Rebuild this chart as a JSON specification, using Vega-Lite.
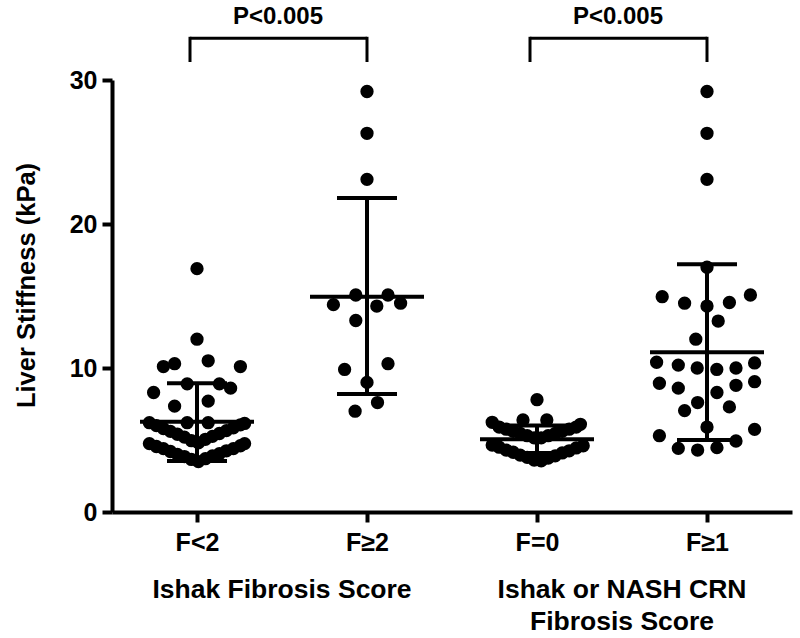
{
  "$schema": "https://vega.github.io/schema/vega-lite/v6.json",
  "width": 680,
  "height": 432,
  "autosize": {"type": "none"},
  "padding": {"left": 112, "top": 80, "right": 8, "bottom": 126},
  "background": "white",
  "config": {
    "view": {"stroke": null},
    "font": "Liberation Sans",
    "axis": {"domainColor": "black", "tickColor": "black", "labelColor": "black", "titleColor": "black", "grid": false, "labelFont": "Liberation Sans", "titleFont": "Liberation Sans", "labelFontWeight": "bold", "titleFontWeight": "bold", "labelFontSize": 25, "titleFontSize": 25, "domainWidth": 4, "tickWidth": 4, "tickSize": 10}
  },
  "datasets": {
    "pts": [
      {"group": "F<2", "kpa": 16.9, "lane": 0},
      {"group": "F<2", "kpa": 12.0, "lane": 0},
      {"group": "F<2", "kpa": 10.1, "lane": -2.4},
      {"group": "F<2", "kpa": 10.3, "lane": -1.6},
      {"group": "F<2", "kpa": 10.5, "lane": 0.8},
      {"group": "F<2", "kpa": 10.1, "lane": 3.1},
      {"group": "F<2", "kpa": 8.9, "lane": -0.7},
      {"group": "F<2", "kpa": 8.9, "lane": 1.6},
      {"group": "F<2", "kpa": 8.6, "lane": 2.4},
      {"group": "F<2", "kpa": 8.3, "lane": -3.1},
      {"group": "F<2", "kpa": 7.7, "lane": 0.8},
      {"group": "F<2", "kpa": 7.35, "lane": -1.6},
      {"group": "F<2", "kpa": 6.2, "lane": -0.7},
      {"group": "F<2", "kpa": 6.2, "lane": 0.8},
      {"group": "F<2", "kpa": 6.2, "lane": -3.4},
      {"group": "F<2", "kpa": 6.0, "lane": -2.9},
      {"group": "F<2", "kpa": 5.8, "lane": -2.4},
      {"group": "F<2", "kpa": 5.6, "lane": -1.9},
      {"group": "F<2", "kpa": 5.4, "lane": -1.4},
      {"group": "F<2", "kpa": 5.2, "lane": -0.9},
      {"group": "F<2", "kpa": 4.95, "lane": -0.4},
      {"group": "F<2", "kpa": 4.8, "lane": 0.1},
      {"group": "F<2", "kpa": 5.05, "lane": 0.6},
      {"group": "F<2", "kpa": 5.25, "lane": 1.1},
      {"group": "F<2", "kpa": 5.45, "lane": 1.6},
      {"group": "F<2", "kpa": 5.65, "lane": 2.1},
      {"group": "F<2", "kpa": 5.85, "lane": 2.6},
      {"group": "F<2", "kpa": 6.05, "lane": 3.1},
      {"group": "F<2", "kpa": 6.15, "lane": 3.4},
      {"group": "F<2", "kpa": 4.75, "lane": -3.4},
      {"group": "F<2", "kpa": 4.55, "lane": -2.9},
      {"group": "F<2", "kpa": 4.4, "lane": -2.4},
      {"group": "F<2", "kpa": 4.2, "lane": -1.9},
      {"group": "F<2", "kpa": 4.0, "lane": -1.4},
      {"group": "F<2", "kpa": 3.85, "lane": -0.9},
      {"group": "F<2", "kpa": 3.65, "lane": -0.4},
      {"group": "F<2", "kpa": 3.5, "lane": 0.1},
      {"group": "F<2", "kpa": 3.7, "lane": 0.6},
      {"group": "F<2", "kpa": 3.9, "lane": 1.1},
      {"group": "F<2", "kpa": 4.05, "lane": 1.6},
      {"group": "F<2", "kpa": 4.25, "lane": 2.1},
      {"group": "F<2", "kpa": 4.4, "lane": 2.6},
      {"group": "F<2", "kpa": 4.6, "lane": 3.1},
      {"group": "F<2", "kpa": 4.75, "lane": 3.4},
      {"group": "F≥2", "kpa": 29.2, "lane": 0},
      {"group": "F≥2", "kpa": 26.3, "lane": 0},
      {"group": "F≥2", "kpa": 23.1, "lane": 0},
      {"group": "F≥2", "kpa": 15.07, "lane": -0.8},
      {"group": "F≥2", "kpa": 14.4, "lane": -2.4},
      {"group": "F≥2", "kpa": 15.07, "lane": 1.5},
      {"group": "F≥2", "kpa": 14.3, "lane": 0.7},
      {"group": "F≥2", "kpa": 14.5, "lane": 2.4},
      {"group": "F≥2", "kpa": 13.3, "lane": -0.8},
      {"group": "F≥2", "kpa": 9.9, "lane": -1.6},
      {"group": "F≥2", "kpa": 10.3, "lane": 1.5},
      {"group": "F≥2", "kpa": 9.0, "lane": 0},
      {"group": "F≥2", "kpa": 7.0, "lane": -0.85},
      {"group": "F≥2", "kpa": 7.6, "lane": 0.75},
      {"group": "F=0", "kpa": 7.8, "lane": 0},
      {"group": "F=0", "kpa": 6.23, "lane": -3.2},
      {"group": "F=0", "kpa": 6.39, "lane": -1.0},
      {"group": "F=0", "kpa": 6.39, "lane": 0.7},
      {"group": "F=0", "kpa": 6.09, "lane": 3.1},
      {"group": "F=0", "kpa": 5.9, "lane": -2.7},
      {"group": "F=0", "kpa": 5.75, "lane": -2.2},
      {"group": "F=0", "kpa": 5.6, "lane": -1.7},
      {"group": "F=0", "kpa": 5.45, "lane": -1.2},
      {"group": "F=0", "kpa": 5.3, "lane": -0.7},
      {"group": "F=0", "kpa": 5.15, "lane": -0.2},
      {"group": "F=0", "kpa": 5.15, "lane": 0.3},
      {"group": "F=0", "kpa": 5.3, "lane": 0.8},
      {"group": "F=0", "kpa": 5.45, "lane": 1.3},
      {"group": "F=0", "kpa": 5.6, "lane": 1.8},
      {"group": "F=0", "kpa": 5.75, "lane": 2.3},
      {"group": "F=0", "kpa": 5.9, "lane": 2.8},
      {"group": "F=0", "kpa": 4.65, "lane": -3.2},
      {"group": "F=0", "kpa": 4.5, "lane": -2.7},
      {"group": "F=0", "kpa": 4.3, "lane": -2.2},
      {"group": "F=0", "kpa": 4.15, "lane": -1.7},
      {"group": "F=0", "kpa": 3.95, "lane": -1.2},
      {"group": "F=0", "kpa": 3.8, "lane": -0.7},
      {"group": "F=0", "kpa": 3.6, "lane": -0.2},
      {"group": "F=0", "kpa": 3.55, "lane": 0.3},
      {"group": "F=0", "kpa": 3.75, "lane": 0.8},
      {"group": "F=0", "kpa": 3.9, "lane": 1.3},
      {"group": "F=0", "kpa": 4.1, "lane": 1.8},
      {"group": "F=0", "kpa": 4.25, "lane": 2.3},
      {"group": "F=0", "kpa": 4.45, "lane": 2.8},
      {"group": "F=0", "kpa": 4.6, "lane": 3.3},
      {"group": "F≥1", "kpa": 29.2, "lane": 0},
      {"group": "F≥1", "kpa": 26.3, "lane": 0},
      {"group": "F≥1", "kpa": 23.1, "lane": 0},
      {"group": "F≥1", "kpa": 17.0, "lane": 0},
      {"group": "F≥1", "kpa": 14.95, "lane": -3.2},
      {"group": "F≥1", "kpa": 14.5, "lane": -1.6},
      {"group": "F≥1", "kpa": 14.3, "lane": 0},
      {"group": "F≥1", "kpa": 14.55, "lane": 1.6},
      {"group": "F≥1", "kpa": 15.07, "lane": 3.1},
      {"group": "F≥1", "kpa": 13.26, "lane": 0.8},
      {"group": "F≥1", "kpa": 12.0, "lane": -0.8},
      {"group": "F≥1", "kpa": 10.4, "lane": -3.6},
      {"group": "F≥1", "kpa": 10.2, "lane": -2.05},
      {"group": "F≥1", "kpa": 10.0, "lane": -0.7},
      {"group": "F≥1", "kpa": 9.9, "lane": 0.7},
      {"group": "F≥1", "kpa": 10.0, "lane": 2.07},
      {"group": "F≥1", "kpa": 10.35, "lane": 3.4},
      {"group": "F≥1", "kpa": 8.94, "lane": -3.4},
      {"group": "F≥1", "kpa": 8.6, "lane": -2.05},
      {"group": "F≥1", "kpa": 7.6, "lane": -0.67},
      {"group": "F≥1", "kpa": 8.3, "lane": 0.71},
      {"group": "F≥1", "kpa": 8.8, "lane": 2.07},
      {"group": "F≥1", "kpa": 9.05, "lane": 3.4},
      {"group": "F≥1", "kpa": 7.04, "lane": -1.6},
      {"group": "F≥1", "kpa": 7.3, "lane": 1.6},
      {"group": "F≥1", "kpa": 5.9, "lane": 0},
      {"group": "F≥1", "kpa": 5.3, "lane": -3.4},
      {"group": "F≥1", "kpa": 5.74, "lane": 3.4},
      {"group": "F≥1", "kpa": 4.93, "lane": 2.07},
      {"group": "F≥1", "kpa": 4.42, "lane": -2.05},
      {"group": "F≥1", "kpa": 4.3, "lane": -0.67},
      {"group": "F≥1", "kpa": 4.47, "lane": 0.71}
    ],
    "summ": [
      {"group": "F<2", "mean": 6.27, "lo": 3.54, "hi": 8.94},
      {"group": "F≥2", "mean": 14.95, "lo": 8.2, "hi": 21.8},
      {"group": "F=0", "mean": 5.05, "lo": 4.1, "hi": 6.0},
      {"group": "F≥1", "mean": 11.1, "lo": 5.0, "hi": 17.2}
    ],
    "brackets": [
      {"from": "F<2", "to": "F≥2", "label": "P<0.005"},
      {"from": "F=0", "to": "F≥1", "label": "P<0.005"}
    ],
    "titles": [
      {"group": "F<2", "title": "Ishak Fibrosis Score"},
      {"group": "F=0", "title": "Ishak or NASH CRN\nFibrosis Score"}
    ]
  },
  "encoding": {
    "x": {"field": "group", "type": "nominal", "sort": ["F<2", "F≥2", "F=0", "F≥1"],
      "scale": {"type": "point", "padding": 0.5, "domain": ["F<2", "F≥2", "F=0", "F≥1"]},
      "axis": {"title": null, "labelAngle": 0, "labelPadding": 8, "labelBaseline": "top"}}
  },
  "layer": [
    {
      "data": {"name": "pts"},
      "mark": {"type": "circle", "size": 177, "color": "black", "opacity": 1},
      "encoding": {
        "xOffset": {"field": "lane", "type": "quantitative", "scale": {"domain": [-1, 1], "range": [-14, 14]}},
        "y": {"field": "kpa", "type": "quantitative", "scale": {"domain": [0, 30], "nice": false},
          "axis": {"values": [0, 10, 20, 30], "title": "Liver Stiffness (kPa)", "labelPadding": 5, "titlePadding": 30, "titleFontSize": 25.5, "titleY": 205}}
      }
    },
    {
      "data": {"name": "summ"},
      "mark": {"type": "rule", "color": "black", "strokeWidth": 4},
      "encoding": {"y": {"field": "lo", "type": "quantitative"}, "y2": {"field": "hi"}}
    },
    {
      "data": {"name": "summ"},
      "mark": {"type": "tick", "color": "black", "size": 114, "thickness": 4, "opacity": 1},
      "encoding": {"y": {"field": "mean", "type": "quantitative"}}
    },
    {
      "data": {"name": "summ"},
      "mark": {"type": "tick", "color": "black", "size": 60, "thickness": 4, "opacity": 1},
      "encoding": {"y": {"field": "lo", "type": "quantitative"}}
    },
    {
      "data": {"name": "summ"},
      "mark": {"type": "tick", "color": "black", "size": 60, "thickness": 4, "opacity": 1},
      "encoding": {"y": {"field": "hi", "type": "quantitative"}}
    },
    {
      "data": {"name": "brackets"},
      "mark": {"type": "rule", "color": "black", "strokeWidth": 3, "xOffset": -7},
      "encoding": {"x": {"field": "from", "type": "nominal"}, "x2": {"field": "to"}, "y": {"datum": 32.9}}
    },
    {
      "data": {"name": "brackets"},
      "mark": {"type": "rule", "color": "black", "strokeWidth": 3, "xOffset": -7},
      "encoding": {"x": {"field": "from", "type": "nominal"}, "y": {"datum": 31.25}, "y2": {"datum": 33.0}}
    },
    {
      "data": {"name": "brackets"},
      "mark": {"type": "rule", "color": "black", "strokeWidth": 3},
      "encoding": {"x": {"field": "to", "type": "nominal"}, "y": {"datum": 31.25}, "y2": {"datum": 33.0}}
    },
    {
      "data": {"name": "brackets"},
      "mark": {"type": "text", "font": "Liberation Sans", "fontWeight": "bold", "fontSize": 24, "color": "black", "dx": 81, "baseline": "middle"},
      "encoding": {"x": {"field": "from", "type": "nominal"}, "y": {"datum": 34.4}, "text": {"field": "label"}}
    },
    {
      "data": {"name": "titles"},
      "mark": {"type": "text", "font": "Liberation Sans", "fontWeight": "bold", "fontSize": 26.5, "color": "black", "dx": 85, "baseline": "top", "lineBreak": "\n", "lineHeight": 32},
      "encoding": {"x": {"field": "group", "type": "nominal"}, "y": {"datum": -4.5}, "text": {"field": "title"}}
    }
  ]
}
